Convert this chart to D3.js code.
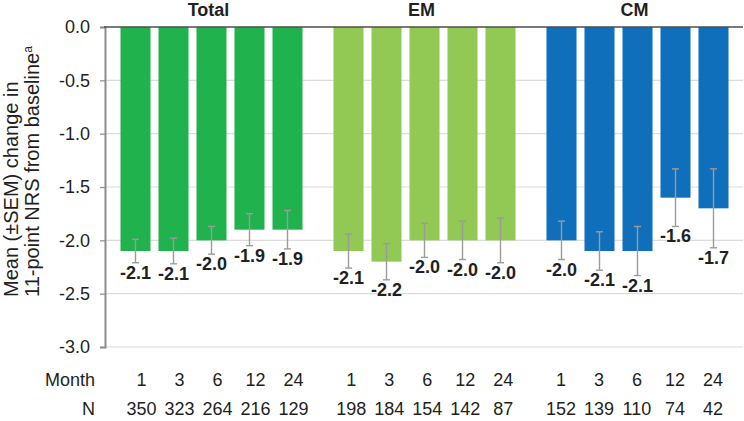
<!DOCTYPE html>
<html>
<head>
<meta charset="utf-8">
<script src="https://cdn.jsdelivr.net/npm/d3@7"></script>
<style>
  body { margin: 0; background: #fff; }
  svg text { font-family: "Liberation Sans", Arial, Helvetica, sans-serif; fill: #231f20; }
</style>
</head>
<body>
<div id="chart"></div>
<script>
(function(){
var width = 744,
    height = 421

// data
var groups = ['Total', 'EM', 'CM']
var months = ['1', '3', '6', '12', '24']
var meanTotal = [-2.1, -2.1, -2.0, -1.9, -1.9]
var meanEM = [-2.1, -2.2, -2.0, -2.0, -2.0]
var meanCM = [-2.0, -2.1, -2.1, -1.6, -1.7]
var semTotal = [0.11, 0.12, 0.13, 0.15, 0.18]
var semEM = [0.16, 0.17, 0.16, 0.18, 0.21]
var semCM = [0.18, 0.18, 0.23, 0.27, 0.37]
var nTotal = [350, 323, 264, 216, 129]
var nEM = [198, 184, 154, 142, 87]
var nCM = [152, 139, 110, 74, 42]
var yTicks = [0, -0.5, -1, -1.5, -2, -2.5, -3]

var colors = { Total: '#20b24c', EM: '#92c954', CM: '#106fba' }
var means = { Total: meanTotal, EM: meanEM, CM: meanCM }
var sems = { Total: semTotal, EM: semEM, CM: semCM }
var ns = { Total: nTotal, EM: nEM, CM: nCM }

var data = []
groups.forEach(function(g) {
  months.forEach(function(m, i) {
    data.push({ group: g, month: m, mean: means[g][i], sem: sems[g][i], n: ns[g][i] })
  })
})

var svg = d3.select('#chart')
  .append('svg')
  .attr('width', width)
  .attr('height', height)

var axisX = 105,
    rightX = 743

// scales
var yScale = d3.scaleLinear()
  .domain([-3, 0])
  .range([347, 27])

var groupScale = d3.scaleBand()
  .domain(groups)
  .range([116.5, 732.5])
  .paddingInner(0.108)

// the month / N table below is spaced a little tighter than the bars
var tableScale = d3.scaleBand()
  .domain(groups)
  .range([122.5, 732])
  .paddingInner(0.094)

var monthScale = d3.scaleBand()
  .domain(months)
  .range([0, groupScale.bandwidth()])
  .paddingInner(0.21)
  .paddingOuter(0.105)

function xPos(d) { return groupScale(d.group) + monthScale(d.month) }
function xMid(d) { return xPos(d) + monthScale.bandwidth() / 2 }
function xTable(d) { return tableScale(d.group) + monthScale(d.month) + monthScale.bandwidth() / 2 }

// gridlines
svg.append('g')
  .selectAll('line')
  .data(yTicks.filter(function(t) { return t !== 0 }))
  .enter()
  .append('line')
    .attr('x1', axisX)
    .attr('x2', rightX)
    .attr('y1', function(d) { return yScale(d) })
    .attr('y2', function(d) { return yScale(d) })
    .attr('stroke', '#dcdcdc')
    .attr('stroke-width', 1.2)

// y axis
var yAxis = svg.append('g')
  .attr('transform', 'translate(' + axisX + ',0)')
  .call(d3.axisLeft(yScale).tickValues(yTicks).tickSize(5).tickPadding(10).tickFormat(d3.format('.1f')))

yAxis.select('.domain').attr('stroke', '#8c8c8c').attr('stroke-width', 2)
yAxis.selectAll('.tick line').attr('stroke', '#8c8c8c').attr('stroke-width', 1.2)
yAxis.selectAll('.tick text')
  .style('font-size', '18px')
  .attr('fill', '#231f20')
  .text(function(d) { return d3.format('.1f')(d).replace('−', '-') })

// bars
svg.append('g')
  .selectAll('rect')
  .data(data)
  .enter()
  .append('rect')
    .attr('x', xPos)
    .attr('y', yScale(0))
    .attr('width', monthScale.bandwidth())
    .attr('height', function(d) { return yScale(d.mean) - yScale(0) })
    .attr('fill', function(d) { return colors[d.group] })

// zero line on top
svg.append('line')
  .attr('x1', axisX - 1)
  .attr('x2', rightX)
  .attr('y1', yScale(0))
  .attr('y2', yScale(0))
  .attr('stroke', '#4d4d4d')
  .attr('stroke-width', 1.5)

// error bars
var err = svg.append('g')
  .attr('stroke', '#9b9b9b')
  .attr('stroke-width', 1.4)

err.selectAll('.stem')
  .data(data)
  .enter()
  .append('line')
    .attr('x1', xMid).attr('x2', xMid)
    .attr('y1', function(d) { return yScale(d.mean + d.sem) })
    .attr('y2', function(d) { return yScale(d.mean - d.sem) })

err.selectAll('.capTop')
  .data(data)
  .enter()
  .append('line')
    .attr('x1', function(d) { return xMid(d) - 3.5 })
    .attr('x2', function(d) { return xMid(d) + 3.5 })
    .attr('y1', function(d) { return yScale(d.mean + d.sem) })
    .attr('y2', function(d) { return yScale(d.mean + d.sem) })

err.selectAll('.capBottom')
  .data(data)
  .enter()
  .append('line')
    .attr('x1', function(d) { return xMid(d) - 3.5 })
    .attr('x2', function(d) { return xMid(d) + 3.5 })
    .attr('y1', function(d) { return yScale(d.mean - d.sem) })
    .attr('y2', function(d) { return yScale(d.mean - d.sem) })

// value labels
svg.append('g')
  .selectAll('text')
  .data(data)
  .enter()
  .append('text')
    .attr('x', xMid)
    .attr('y', function(d) { return yScale(d.mean - d.sem) + 16 })
    .attr('text-anchor', 'middle')
    .style('font-size', '18px')
    .style('font-weight', 'bold')
    .text(function(d) { return d.mean.toFixed(1) })

// group titles
svg.append('g')
  .selectAll('text')
  .data(groups)
  .enter()
  .append('text')
    .attr('x', function(d) { return groupScale(d) + groupScale.bandwidth() / 2 - 3 })
    .attr('y', 16)
    .attr('text-anchor', 'middle')
    .style('font-size', '18px')
    .style('font-weight', 'bold')
    .text(function(d) { return d })

// month / N rows
var rows = svg.append('g').style('font-size', '18px')

rows.append('text')
  .attr('x', 95).attr('y', 386)
  .attr('text-anchor', 'end')
  .text('Month')

rows.append('text')
  .attr('x', 95).attr('y', 415)
  .attr('text-anchor', 'end')
  .text('N')

rows.selectAll('.month')
  .data(data)
  .enter()
  .append('text')
    .attr('x', xTable)
    .attr('y', 386)
    .attr('text-anchor', 'middle')
    .text(function(d) { return d.month })

rows.selectAll('.n')
  .data(data)
  .enter()
  .append('text')
    .attr('x', xTable)
    .attr('y', 415)
    .attr('text-anchor', 'middle')
    .text(function(d) { return d.n })

// y title
var title = svg.append('text')
  .attr('transform', 'translate(0,297) rotate(-90)')
  .style('font-size', '20px')

title.append('tspan')
  .attr('x', 0).attr('y', 18)
  .text('Mean (±SEM) change in')

title.append('tspan')
  .attr('x', 0).attr('y', 39)
  .text('11-point NRS from baseline')

title.append('tspan')
  .attr('dy', -7)
  .style('font-size', '12px')
  .text('a')

})()
</script>
</body>
</html>
